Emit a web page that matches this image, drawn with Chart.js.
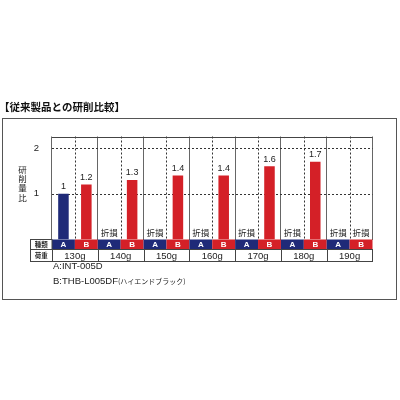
<!DOCTYPE html>
<html>
<head>
<meta charset="utf-8">
<script src="https://cdn.jsdelivr.net/npm/chart.js@4"></script>
<style>
  html, body { margin: 0; padding: 0; background: #fff; }
  canvas { display: block; }
</style>
</head>
<body>
<canvas id="chart" width="400" height="400"></canvas>
<script>
// データ
const loads = ['130g', '140g', '150g', '160g', '170g', '180g', '190g'];
const typeLabels = ['A', 'B'];
const seriesA = [1, null, null, null, null, null, null];
const seriesB = [1.2, 1.3, 1.4, 1.4, 1.6, 1.7, null];
const yTicks = [1, 2];
const legendLines = ['A:INT-005D', 'B:THB-L005DF(ハイエンドブラック)'];

const BLUE = '#1f2a78';
const RED = '#d42027';
const LINE = '#444';
const JP = '"Noto Sans CJK JP", sans-serif';
const LAT = '"Liberation Sans", Arial, sans-serif';

// 枠・表・ラベルを描く
const decor = {
    id: 'decor',
    beforeDatasetsDraw(chart) {
        const ctx = chart.ctx;
        const area = chart.chartArea;
        const x = chart.scales.x;
        const y = chart.scales.y;
        ctx.save();
        ctx.strokeStyle = '#333';
        ctx.lineWidth = 1;
        ctx.setLineDash([2, 2]);
        yTicks.forEach(v => {
            const py = Math.round(y.getPixelForValue(v)) + 0.5;
            ctx.beginPath();
            ctx.moveTo(area.left, py);
            ctx.lineTo(area.right, py);
            ctx.stroke();
        });
        loads.forEach((l, i) => {
            const px = Math.round(x.getPixelForValue(i)) + 0.5;
            ctx.beginPath();
            ctx.moveTo(px, area.top);
            ctx.lineTo(px, area.bottom);
            ctx.stroke();
        });
        ctx.setLineDash([]);
        ctx.strokeStyle = LINE;
        ctx.beginPath();
        ctx.moveTo(area.left, Math.round(area.top) + 0.5);
        ctx.lineTo(area.right, Math.round(area.top) + 0.5);
        ctx.stroke();
        ctx.restore();
    },
    afterDatasetsDraw(chart) {
        const ctx = chart.ctx;
        const area = chart.chartArea;
        const x = chart.scales.x;
        const gw = x.getPixelForValue(1) - x.getPixelForValue(0);
        ctx.save();

        // タイトル
        ctx.fillStyle = '#111';
        ctx.font = 'bold 10.5px ' + JP;
        ctx.textAlign = 'left';
        ctx.textBaseline = 'middle';
        ctx.fillText('【従来製品との研削比較】', -1, 107);

        // 外枠
        ctx.strokeStyle = '#555';
        ctx.lineWidth = 1;
        ctx.strokeRect(2.5, 118.5, 394, 181);

        // 縦軸タイトル
        ctx.fillStyle = '#222';
        ctx.font = '8.5px ' + JP;
        ctx.textAlign = 'center';
        ['研', '削', '量', '比'].forEach((c, i) => ctx.fillText(c, 22.5, 169.5 + i * 9.3));

        // 数値ラベルと折損
        [seriesA, seriesB].forEach((data, d) => {
            const meta = chart.getDatasetMeta(d);
            data.forEach((v, i) => {
                const cx = x.getPixelForValue(i) + (d === 0 ? -gw / 4 : gw / 4);
                if (v === null) {
                    ctx.fillStyle = '#222';
                    ctx.font = '8.5px ' + JP;
                    ctx.fillText('折損', cx, 233);
                } else {
                    const bar = meta.data[i];
                    ctx.fillStyle = '#222';
                    ctx.font = '9px ' + LAT;
                    ctx.fillText(String(v), bar.x, bar.y - 7);
                }
            });
        });

        // 表
        const r1t = area.bottom, r1b = 249.5, r2b = 261.5;
        const labL = 30.5;
        loads.forEach((l, i) => {
            const left = x.getPixelForValue(i) - gw / 2;
            typeLabels.forEach((t, d) => {
                ctx.fillStyle = d === 0 ? BLUE : RED;
                ctx.fillRect(left + d * gw / 2, r1t, gw / 2, r1b - r1t);
                ctx.fillStyle = '#fff';
                ctx.font = 'bold 8px ' + LAT;
                ctx.fillText(t, left + d * gw / 2 + gw / 4, (r1t + r1b) / 2 + 0.5);
            });
            ctx.fillStyle = '#222';
            ctx.font = '9.5px ' + LAT;
            ctx.fillText(l, left + gw / 2, (r1b + r2b) / 2 + 0.5);
            ctx.strokeStyle = LINE;
            ctx.beginPath();
            ctx.moveTo(Math.round(left) + 0.5, r1b);
            ctx.lineTo(Math.round(left) + 0.5, r2b);
            ctx.stroke();
        });
        ctx.strokeStyle = LINE;
        ctx.strokeRect(labL, r1t, area.left - labL, r1b - r1t);
        ctx.strokeRect(labL, r1b, area.right - labL, r2b - r1b);
        ctx.fillStyle = '#222';
        ctx.font = 'bold 6.5px ' + JP;
        ctx.fillText('種類', (labL + area.left) / 2, (r1t + r1b) / 2 + 0.5);
        ctx.fillText('荷重', (labL + area.left) / 2, (r1b + r2b) / 2 + 0.5);

        // 凡例テキスト（英数字と日本語でフォントを分ける）
        ctx.textAlign = 'left';
        ctx.font = '9.5px ' + LAT;
        ctx.fillText(legendLines[0], 53, 266.5);
        const cut = legendLines[1].indexOf('(');
        const head = legendLines[1].slice(0, cut);
        ctx.fillText(head, 53, 281.5);
        const w = ctx.measureText(head).width;
        ctx.font = '7px ' + JP;
        ctx.fillText(legendLines[1].slice(cut), 53 + w, 281.5);
        ctx.restore();
    }
};

const chart = new Chart(document.getElementById('chart').getContext('2d'), {
    type: 'bar',
    data: {
        labels: loads,
        datasets: [{
            label: 'A',
            data: seriesA,
            backgroundColor: BLUE,
            categoryPercentage: 1,
            barPercentage: 0.46
        }, {
            label: 'B',
            data: seriesB,
            backgroundColor: RED,
            categoryPercentage: 1,
            barPercentage: 0.46
        }]
    },
    options: {
        responsive: false,
        animation: false,
        devicePixelRatio: 1,
        layout: {
            padding: { left: 0, top: 136.5, right: 27.5, bottom: 160.5 }
        },
        plugins: {
            legend: { display: false },
            tooltip: { enabled: false }
        },
        scales: {
            x: {
                ticks: { display: false },
                grid: { offset: true, color: '#666', drawTicks: false },
                border: { display: false },
                afterFit: s => { s.height = 0; }
            },
            y: {
                min: 0,
                max: 2.25,
                afterBuildTicks: s => { s.ticks = yTicks.map(v => ({ value: v })); },
                ticks: {
                    padding: 5,
                    color: '#222',
                    font: { family: 'Liberation Sans', size: 9.5 }
                },
                grid: { display: false },
                border: { display: false },
                afterFit: s => { s.width = 52; }
            }
        }
    },
    plugins: [decor]
});
</script>
</body>
</html>
